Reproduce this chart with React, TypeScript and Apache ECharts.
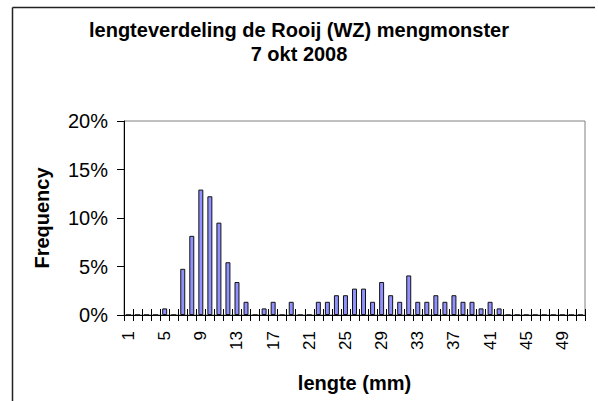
import React, { useEffect, useRef } from "react";
import * as echarts from "echarts";

const titleLines = ["lengteverdeling de Rooij (WZ) mengmonster", "7 okt 2008"];
const xName = "lengte (mm)";
const yName = "Frequency";

const categories = [
  "1", "2", "3", "4", "5", "6", "7", "8", "9", "10",
  "11", "12", "13", "14", "15", "16", "17", "18", "19", "20",
  "21", "22", "23", "24", "25", "26", "27", "28", "29", "30",
  "31", "32", "33", "34", "35", "36", "37", "38", "39", "40",
  "41", "42", "43", "44", "45", "46", "47", "48", "49", "50", "51",
];

// frequency in percent per length class
const frequency = [
  0, 0, 0, 0, 0.68, 0, 4.76, 8.16, 12.93, 12.24,
  9.52, 5.44, 3.4, 1.36, 0, 0.68, 1.36, 0, 1.36, 0,
  0, 1.36, 1.36, 2.04, 2.04, 2.72, 2.72, 1.36, 3.4, 2.04,
  1.36, 4.08, 1.36, 1.36, 2.04, 1.36, 2.04, 1.36, 1.36, 0.68,
  1.36, 0.68, 0, 0, 0, 0, 0, 0, 0, 0, 0,
];

const yTicks = [0, 5, 10, 15, 20];

const FONT = "'Liberation Sans', Arial, sans-serif";

export default function App() {
  const ref = useRef<HTMLDivElement>(null);
  useEffect(() => {
    if (!ref.current) return;
    const chart = echarts.init(ref.current, null, { renderer: "svg" });
    chart.setOption({
      animation: false,
      backgroundColor: "#ffffff",
      textStyle: { fontFamily: FONT, color: "#000" },
      title: {
        text: titleLines.join("\n"),
        left: "center",
        top: 13,
        textStyle: {
          fontFamily: FONT,
          fontSize: 20,
          fontWeight: "bold",
          color: "#000",
          lineHeight: 24,
        },
      },
      graphic: [
        {
          type: "line",
          shape: { x1: 12.5, y1: 7.5, x2: 595, y2: 7.5 },
          style: { stroke: "#222", lineWidth: 1.5 },
        },
        {
          type: "line",
          shape: { x1: 12.5, y1: 7.5, x2: 12.5, y2: 401 },
          style: { stroke: "#222", lineWidth: 1.5 },
        },
      ],
      grid: {
        left: 124,
        right: 13,
        top: 121,
        bottom: 86,
        show: true,
        borderColor: "#808080",
        borderWidth: 1,
        backgroundColor: "transparent",
      },
      xAxis: [
        {
          type: "category",
          data: categories,
          boundaryGap: true,
          name: xName,
          nameLocation: "middle",
          nameGap: 58,
          nameTextStyle: { fontFamily: FONT, fontSize: 20, fontWeight: "bold", color: "#000" },
          axisLine: { show: true, lineStyle: { color: "#000", width: 1 } },
          axisTick: { show: true, interval: 0, length: 6, lineStyle: { color: "#000" } },
          axisLabel: {
            interval: 3,
            rotate: 90,
            margin: 16,
            fontFamily: FONT,
            fontSize: 17,
            color: "#000",
          },
          splitLine: { show: false },
        },
        {
          type: "category",
          data: categories,
          boundaryGap: true,
          position: "bottom",
          axisLine: { show: false },
          axisTick: { show: true, inside: true, interval: 0, length: 6, lineStyle: { color: "#000" } },
          axisLabel: { show: false },
          splitLine: { show: false },
        },
      ],
      yAxis: {
        type: "value",
        min: yTicks[0],
        max: yTicks[yTicks.length - 1],
        interval: 5,
        name: yName,
        nameLocation: "middle",
        nameGap: 72,
        nameTextStyle: { fontFamily: FONT, fontSize: 20, fontWeight: "bold", color: "#000" },
        axisLine: { show: true, lineStyle: { color: "#000", width: 1 } },
        axisTick: { show: true, length: 7, lineStyle: { color: "#000" } },
        axisLabel: {
          formatter: "{value}%",
          margin: 16,
          fontFamily: FONT,
          fontSize: 20,
          color: "#000",
        },
        splitLine: { show: false },
      },
      series: [
        {
          type: "bar",
          data: frequency,
          xAxisIndex: 0,
          barWidth: "55%",
          itemStyle: { color: "#9090ff", borderColor: "#111", borderWidth: 1 },
        },
      ],
    });
    return () => chart.dispose();
  }, []);
  return (
    <div
      ref={ref}
      style={{ position: "fixed", left: 0, top: 0, width: 598, height: 401 }}
    />
  );
}
